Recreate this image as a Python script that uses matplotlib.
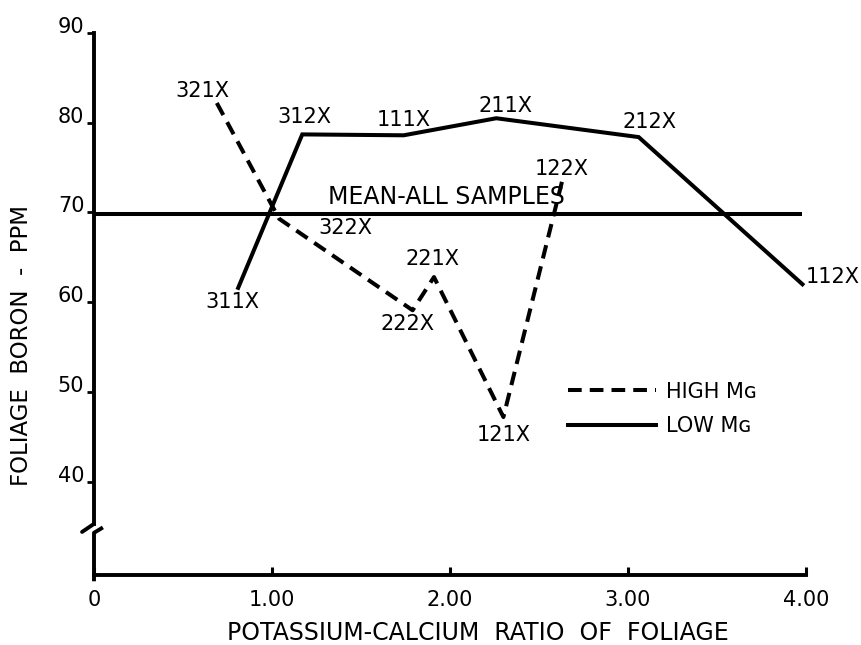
import matplotlib
matplotlib.use("Agg")
import matplotlib.pyplot as plt
from matplotlib.transforms import ScaledTranslation

# ---- data ----
low_x = [0.81, 1.17, 1.74, 2.26, 3.06, 3.98]
low_y = [61.6, 78.7, 78.6, 80.5, 78.4, 62.0]
low_names = ["311X", "312X", "111X", "211X", "212X", "112X"]

high_x = [0.69, 1.04, 1.79, 1.91, 2.30, 2.63]
high_y = [82.2, 69.3, 59.1, 62.8, 47.2, 73.5]
high_names = ["321X", "322X", "222X", "221X", "121X", "122X"]

mean_value = 69.8
mean_span = [0.0, 3.98]

x_ticks = [0, 1, 2, 3, 4]
x_ticklabels = ["0", "1.00", "2.00", "3.00", "4.00"]
y_ticks = [40, 50, 60, 70, 80, 90]
y_ticklabels = ["40", "50", "60", "70", "80", "90"]

# label anchor positions (data coords) for each point label
label_pos = {
    "311X": (0.78, 60.0), "312X": (1.18, 80.6), "111X": (1.74, 80.3),
    "211X": (2.31, 81.9), "212X": (3.12, 80.1), "112X": (4.15, 62.8),
    "321X": (0.61, 83.5), "322X": (1.41, 68.3), "222X": (1.76, 57.6),
    "221X": (1.90, 64.8), "121X": (2.30, 45.2), "122X": (2.63, 74.8),
}

plt.rcParams['font.family'] = ['DejaVu Sans']

W, H = 861, 645
fig = plt.figure(figsize=(W / 100, H / 100), dpi=100)
ax = fig.add_axes([94 / W, 1 - 575 / H, (806 - 94) / W, (575 - 33) / H])
ax.set_xlim(0, 4)
ax.set_ylim(29.6, 90)

lw = 2.9
ax.plot(mean_span, [mean_value, mean_value], color="black", lw=lw,
        solid_capstyle="butt")
l_low, = ax.plot(low_x, low_y, color="black", lw=lw, label="LOW Mɢ",
                 solid_joinstyle="miter", clip_on=False)
l_high, = ax.plot(high_x, high_y, color="black", lw=lw, ls=(0, (3.4, 2.0)),
                  label="HIGH Mɢ", clip_on=False)

fs = 15
for n in low_names + high_names:
    x, y = label_pos[n]
    ax.text(x, y, n, ha="center", va="center", fontsize=fs)

ax.text(1.98, 71.7, "MEAN-ALL SAMPLES", ha="center", va="center", fontsize=17)

# spines
for s in ["top", "right"]:
    ax.spines[s].set_visible(False)
ax.spines["bottom"].set_linewidth(2.8)
ax.spines["left"].set_linewidth(2.8)
ax.spines["left"].set_bounds(35.3, 90)
ax.spines["bottom"].set_bounds(0, 4)
# lower part of the broken y axis and break strokes
ax.plot([0, -0.067], [35.3, 34.4], color="black", lw=2.8, clip_on=False,
        solid_capstyle="round")
ax.plot([0.05, 0.0, 0.0], [34.9, 34.3, 28.9], color="black", lw=2.8,
        clip_on=False, solid_capstyle="butt")

ax.set_xticks(x_ticks)
ax.set_xticklabels(x_ticklabels, fontsize=fs)
ax.set_yticks(y_ticks)
ax.set_yticklabels(y_ticklabels, fontsize=fs)
ax.tick_params(axis="x", direction="in", length=6, width=2.2, pad=11)
ax.tick_params(axis="y", direction="out", length=5, width=2.0, pad=2)
off = ScaledTranslation(0, 8 / 100, fig.dpi_scale_trans)
for lab in ax.get_yticklabels():
    lab.set_transform(lab.get_transform() + off)

fig.text(22 / W, 1 - 346 / H, "FOLIAGE  BORON  -  PPM", rotation=90,
         ha="center", va="center", fontsize=16.5)
fig.text(478 / W, 1 - 633 / H, "POTASSIUM-CALCIUM  RATIO  OF  FOLIAGE",
         ha="center", va="center", fontsize=17)

ax.legend(handles=[l_high, l_low], loc="center left",
          bbox_to_anchor=(568 / W, 1 - 409 / H), bbox_transform=fig.transFigure,
          frameon=False, fontsize=fs, handlelength=4.2, handletextpad=0.5,
          labelspacing=0.7, borderpad=0, borderaxespad=0)

fig.savefig("out.png", dpi=100)
